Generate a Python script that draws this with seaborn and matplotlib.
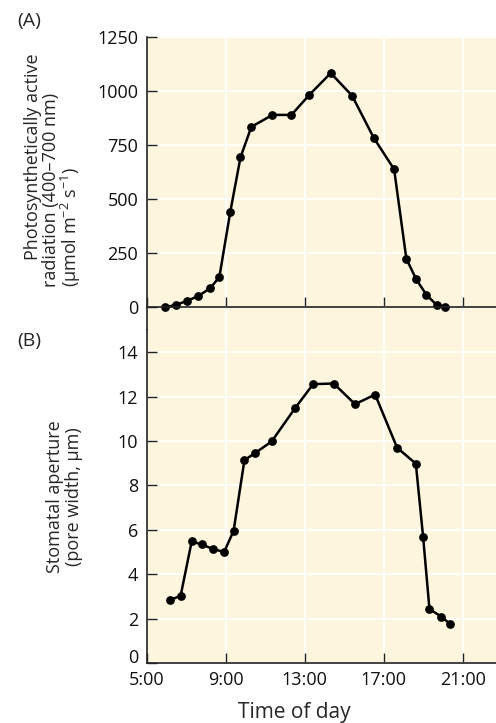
import matplotlib
matplotlib.use("Agg")
import matplotlib.pyplot as plt
import seaborn as sns
import pandas as pd

# ---- data ----
hours_a = [5.95, 6.48, 7.03, 7.62, 8.23, 8.68, 9.23, 9.75, 10.3, 11.37, 12.33,
           13.23, 14.32, 15.4, 16.5, 17.53, 18.15, 18.65, 19.17, 19.7, 20.13]
par_a = [0, 11, 29, 52, 89, 140, 439, 692, 833, 888, 888,
         980, 1081, 977, 782, 637, 224, 129, 57, 9, 3]

hours_b = [6.2, 6.72, 7.28, 7.78, 8.35, 8.92, 9.4, 9.95, 10.48, 11.33, 12.53,
           13.43, 14.47, 15.55, 16.57, 17.68, 18.63, 19.0, 19.32, 19.92, 20.35]
aperture_b = [2.83, 3.04, 5.48, 5.34, 5.14, 5.0, 5.95, 9.14, 9.45, 9.98, 11.5,
              12.56, 12.59, 11.66, 12.09, 9.7, 8.98, 5.67, 2.43, 2.09, 1.77]

x_ticks = [5, 9, 13, 17, 21]
x_tick_labels = ["5:00", "9:00", "13:00", "17:00", "21:00"]
a_yticks = [0, 250, 500, 750, 1000, 1250]
b_yticks = [0, 2, 4, 6, 8, 10, 12, 14]

a_label_lines = ["Photosynthetically active",
                 "radiation (400\u2013700 nm)",
                 "(\u00b5mol m$^{\u22122}$ s$^{\u22121}$)"]
b_label = "Stomatal aperture\n(pore width, \u00b5m)"

df_a = pd.DataFrame({"hour": hours_a, "par": par_a})
df_b = pd.DataFrame({"hour": hours_b, "aperture": aperture_b})

sns.set_theme(style="ticks")
plt.rcParams["font.family"] = ["Open Sans", "DejaVu Sans"]
plt.rcParams["mathtext.fontset"] = "custom"
plt.rcParams["mathtext.rm"] = "Open Sans"
plt.rcParams["mathtext.it"] = "Open Sans:italic"

BG = "#FDF5DE"
W, H = 496, 723
fig = plt.figure(figsize=(W / 100, H / 100), dpi=100)

left = 146.7 / W
ax_a = fig.add_axes([left, 1 - 330 / H, 1 - left, (330 - 36.5) / H])
ax_b = fig.add_axes([left, 1 - 663 / H, 1 - left, (663 - 330) / H])

TICK_FS = 13
YLAB_FS = 13
XLAB_FS = 15
line_kw = dict(marker="o", color="black", linewidth=1.8, markersize=6.3,
               markeredgecolor="black", markeredgewidth=0)

for ax in (ax_a, ax_b):
    ax.set_facecolor(BG)
    ax.grid(True, color="white", linewidth=1.3)
    ax.set_axisbelow(True)
    ax.spines["top"].set_visible(False)
    ax.spines["right"].set_visible(False)
    ax.spines["left"].set_color("#222222")
    ax.spines["bottom"].set_color("#222222")
    ax.spines["left"].set_linewidth(1.2)
    ax.spines["bottom"].set_linewidth(1.2)
    ax.tick_params(direction="in", length=7, width=1.0, color="#222222",
                   labelsize=TICK_FS, pad=6, labelcolor="#111111")
    ax.set_xlim(5, 22.69)
    ax.set_xticks(x_ticks)

sns.lineplot(data=df_a, x="hour", y="par", ax=ax_a, **line_kw)
sns.lineplot(data=df_b, x="hour", y="aperture", ax=ax_b, **line_kw)

# Panel A
ax_a.set_ylim(-105, 1250)
ax_a.set_yticks(a_yticks)
ax_a.spines["bottom"].set_position(("data", 0))
ax_a.tick_params(axis="x", labelbottom=False)
ax_a.set_xlabel("")
ax_a.set_ylabel("")
for txt, xc, yb in zip(a_label_lines, [33, 51.5, 71], [260, 287, 287]):
    fig.text(xc / W, 1 - yb / H, txt, rotation=90, ha="center", va="bottom",
             fontsize=YLAB_FS)

# Panel B
ax_b.set_ylim(0, 15)
ax_b.set_yticks(b_yticks)
ax_b.set_xticklabels(x_tick_labels)
ax_b.set_xlabel("Time of day", fontsize=XLAB_FS, va="top")
ax_b.xaxis.set_label_coords((294.5 - 146.7) / (W - 146.7), -(702 - 663) / 333)
ax_b.set_ylabel(b_label, fontsize=YLAB_FS, linespacing=1.05)
ax_b.yaxis.set_label_coords(-(146.7 - 83) / (W - 146.7), 0.5)
# the "0" of panel B sits just above the axis line, as in the reference
ax_b.yaxis.get_major_ticks()[0].label1.set_va("baseline")

fig.text(17 / W, 1 - 21 / H, "(A)", fontsize=14, va="center", ha="left")
fig.text(17 / W, 1 - 341 / H, "(B)", fontsize=14, va="center", ha="left")

fig.savefig("out.png", dpi=100, facecolor="white")
